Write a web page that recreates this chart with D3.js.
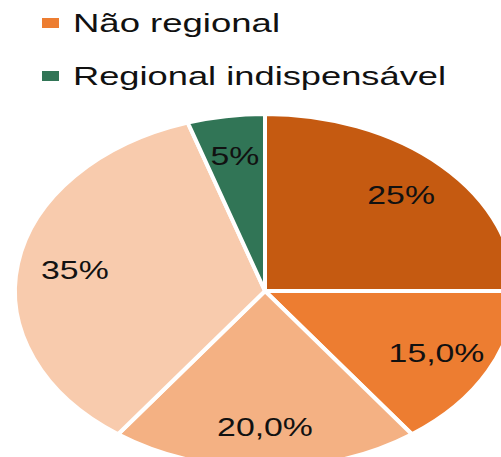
<!DOCTYPE html>
<html>
<head>
<meta charset="utf-8">
<script src="https://cdn.jsdelivr.net/npm/d3@7"></script>
<style>
  body { margin: 0; background: #fff; }
  svg { display: block; }
  .lbl { font-family: "Liberation Sans", "DejaVu Sans", sans-serif; fill: #111; }
</style>
</head>
<body>
<script>
//slice values in clockwise order starting at 12 o'clock
var sliceValues = [25, 15, 20, 35, 5];
var sliceLabels = ["25%", "15,0%", "20,0%", "35%", "5%"];
var sliceColors = ["#C55A11", "#ED7D31", "#F4B183", "#F8CBAD", "#317556"];
//legend entries visible in the picture
var legendNames = ["Não regional", "Regional indispensável"];
var legendColors = ["#ED7D31", "#317556"];

var width = 501, height = 457;

var svg = d3.select("body").append("svg")
    .attr("width", width)
    .attr("height", height);

//pie is stretched horizontally in the original
var ry = 177, rx = 250, cx = 265, cy = 291;
var sx = rx / ry;

var pie = d3.pie().sort(null).value(function(d){ return d; });
var arc = d3.arc().innerRadius(0).outerRadius(ry);
var labelArc = d3.arc().innerRadius(ry * 0.77).outerRadius(ry * 0.77);

var arcs = pie(sliceValues);

var g = svg.append("g")
    .attr("transform", "translate(" + cx + "," + cy + ") scale(" + sx + ",1)");

g.selectAll("path")
    .data(arcs)
    .enter()
    .append("path")
    .attr("d", arc)
    .attr("fill", function(d, i){ return sliceColors[i]; })
    .attr("stroke", "#fff")
    .attr("stroke-width", 4)
    .attr("vector-effect", "non-scaling-stroke");

//data labels, text is stretched sideways like the pie
var labels = svg.selectAll(".plbl")
    .data(arcs)
    .enter()
    .append("g")
    .attr("class", "plbl")
    .attr("transform", function(d){
        var c = labelArc.centroid(d);
        return "translate(" + (cx + c[0] * sx) + "," + (cy + c[1]) + ") scale(1.3,1)";
    });

labels.append("text")
    .attr("class", "lbl")
    .attr("dy", "0.35em")
    .attr("text-anchor", "middle")
    .attr("font-size", 26)
    .text(function(d, i){ return sliceLabels[i]; });

//legend
var legend = svg.selectAll(".leg")
    .data(legendNames)
    .enter()
    .append("g")
    .attr("class", "leg")
    .attr("transform", function(d, i){ return "translate(42," + (23 + i * 53) + ")"; });

legend.append("rect")
    .attr("x", 0)
    .attr("y", -5)
    .attr("width", 17)
    .attr("height", 10)
    .attr("fill", function(d, i){ return legendColors[i]; });

legend.append("text")
    .attr("class", "lbl")
    .attr("x", 31)
    .attr("y", 0)
    .attr("dy", "0.35em")
    .attr("font-size", 25)
    .attr("textLength", function(d, i){ return i === 0 ? 207 : 373; })
    .attr("lengthAdjust", "spacingAndGlyphs")
    .text(function(d){ return d; });
</script>
</body>
</html>
